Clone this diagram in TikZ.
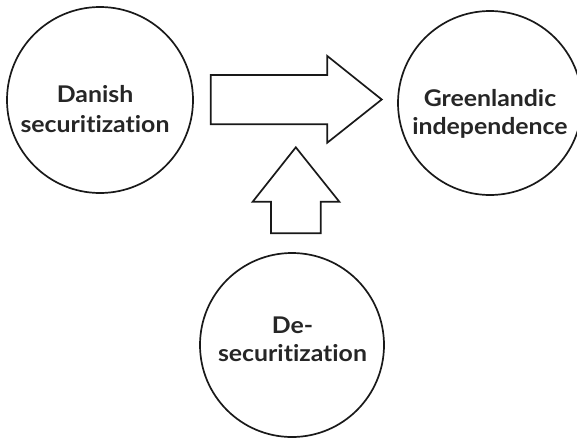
\documentclass[tikz,border=0pt]{standalone}
\usepackage{fontspec}
\setmainfont{Lato}[Ligatures=NoCommon,FakeStretch=1.08]
\begin{document}
\begin{tikzpicture}[x=1pt,y=-1pt,
  ring/.style={circle,draw=black!90,line width=1.7pt,inner sep=0pt},
  caption/.style={anchor=base,inner sep=0pt,font=\bfseries\fontsize{23}{28}\selectfont,text=black!85},
  blockarrow/.style={draw=black!90,line width=1.7pt,line join=miter,fill=white}]
\useasboundingbox (0,0) rectangle (577,439);
\clip (0,0) rectangle (577,439);

% three circles
\node[ring,minimum size=186pt] (danish) at (100,100) {};
\node[ring,minimum size=184pt] (green)  at (490,103) {};
\node[ring,minimum size=184pt] (desec)  at (292,345) {};

% their captions, one node per line, placed on the baseline
\node[caption] (danishA) at (95,102.5) {Danish};
\node[caption] (danishB) at (95,132.5) {securitization};
\node[caption] (greenA)  at (490,106) {Greenlandic};
\node[caption] (greenB)  at (490,134) {independence};
\node[caption] (desecA)  at (292.5,333.3) {De-};
\node[caption] (desecB)  at (292.5,361.7) {securitization};

% block arrow from Danish securitization to Greenlandic independence
\draw[blockarrow] (210.7,75) -- (327.3,75) -- (327.3,56) -- (381.7,99.5)
  -- (327.3,142.7) -- (327.3,124.3) -- (210.7,124.3) -- cycle;

% block arrow from De-securitization up to the main arrow
\draw[blockarrow] (271,233.3) -- (271,201.7) -- (252.7,201.7) -- (295.8,147.3)
  -- (339.3,201.7) -- (320.7,201.7) -- (320.7,233.3) -- cycle;
\end{tikzpicture}
\end{document}
